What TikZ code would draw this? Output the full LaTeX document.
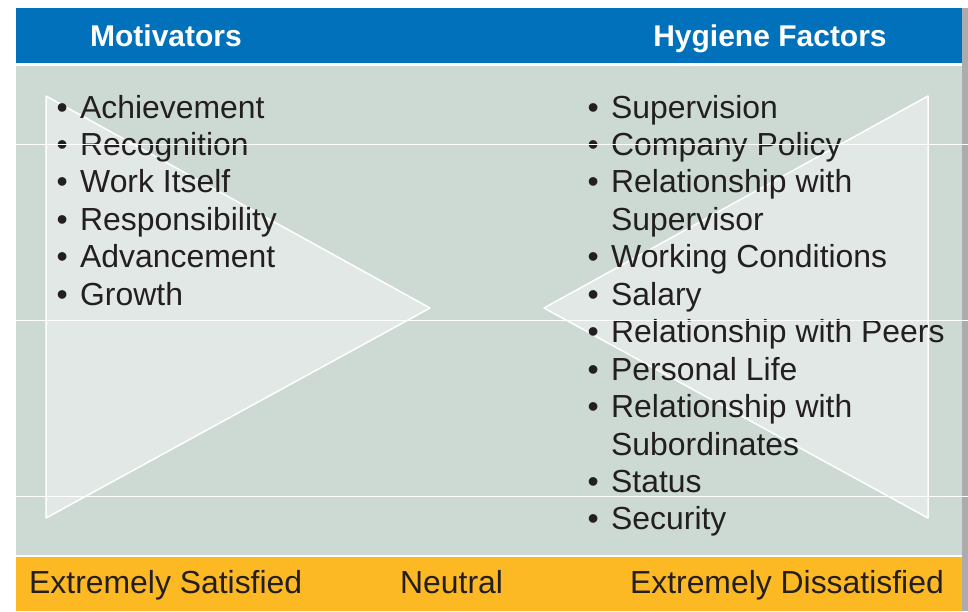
\documentclass[tikz,border=0pt]{standalone}
\usepackage{fontspec}
\setmainfont{Liberation Sans}
\definecolor{hdrblue}{RGB}{0,113,186}
\definecolor{bodygreen}{RGB}{205,218,211}
\definecolor{wedge}{RGB}{226,232,229}
\definecolor{barorange}{RGB}{253,185,36}
\definecolor{ink}{RGB}{35,31,32}
\newcommand{\blt}{\makebox[23.5pt][l]{•}}
\newcommand{\nob}{\makebox[23.5pt][l]{}}
\begin{document}
\begin{tikzpicture}
  [x=1pt,y=-1pt,
   item/.style={anchor=base west,inner sep=0pt,text=ink,font=\fontsize{31.9}{37}\selectfont},
   title/.style={anchor=base,inner sep=0pt,text=white,font=\bfseries\fontsize{30}{36}\selectfont},
   wedgebox/.style={draw=white,line width=1.5pt,fill=wedge,line join=round}]
  \useasboundingbox (0,0) rectangle (968,611);
  \fill[gray!65] (962,8) rectangle (968,611);
  \fill[hdrblue] (16,8) rectangle (962,63);
  \fill[bodygreen] (16,66) rectangle (962,555);
  \fill[barorange] (16,557) rectangle (962,611);

  \coordinate (lt) at (46,96);
  \coordinate (lb) at (46,518);
  \coordinate (ltip) at (430,308);
  \coordinate (rt) at (928,96);
  \coordinate (rb) at (928,518);
  \coordinate (rtip) at (544,308);
  \draw[wedgebox] (lt) -- (ltip) -- (lb) -- cycle;
  \draw[wedgebox] (rt) -- (rtip) -- (rb) -- cycle;

  \node[title] (mot) at (166,46) {Motivators};
  \node[title] (hyg) at (770,46) {Hygiene Factors};

  \foreach \txt [count=\i] in {Achievement,Recognition,Work Itself,
    Responsibility,Advancement,Growth}
    \node[item] (m\i) at (56.5,80.55+37.45*\i) {\blt\txt};
  \foreach \txt [count=\i] in {\blt Supervision,\blt Company Policy,
    \blt Relationship with,\nob Supervisor,\blt Working Conditions,
    \blt Salary,\blt Relationship with Peers,\blt Personal Life,
    \blt Relationship with,\nob Subordinates,\blt Status,\blt Security}
    \node[item] (h\i) at (587.5,80.55+37.45*\i) {\txt};

  \node[item] (sat) at (29,593) {Extremely Satisfied};
  \node[item] (neu) at (400,593) {Neutral};
  \node[item,anchor=base east] (dis) at (944,593) {Extremely Dissatisfied};

  \foreach \y in {144,320,496}
    \draw[white,line width=1pt] (16,\y) -- (968,\y);
\end{tikzpicture}
\end{document}
